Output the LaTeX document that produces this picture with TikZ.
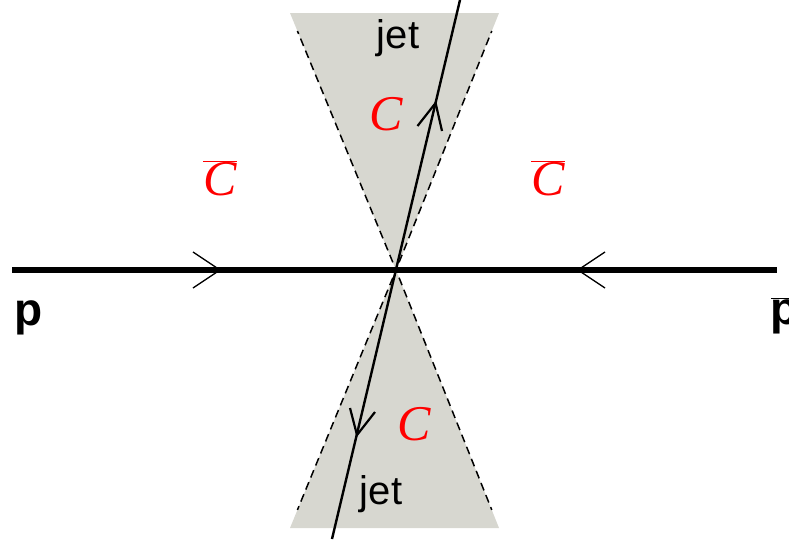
\documentclass[tikz,border=0pt]{standalone}
\usepackage{fontspec}
\usetikzlibrary{calc}
\setmainfont{Liberation Sans}
\newfontfamily\cfont{Liberation Serif}
\definecolor{conegray}{RGB}{215,215,208}
\begin{document}
\begin{tikzpicture}[x=1pt,y=-1pt,
  cone/.style={fill=conegray,draw=none},
  edge/.style={line width=1.5pt,dash pattern=on 8pt off 5pt},
  beam/.style={line width=5.5pt},
  jetline/.style={line width=2.4pt},
  chev/.style={line width=1.3pt},
  jchev/.style={line width=2.2pt},
  lab/.style={font=\fontsize{40}{40}\selectfont},
  plab/.style={font=\fontsize{46}{46}\selectfont\bfseries},
  clab/.style={text=red,font=\fontsize{50}{50}\selectfont\cfont\itshape}]
\useasboundingbox (0,0) rectangle (789,539);
\coordinate (apex) at (396,270);
\coordinate (tl) at (290,13);
\coordinate (tr) at (499,13);
\coordinate (bl) at (290,528);
\coordinate (br) at (499,528);
\fill[cone] (apex) -- (tl) -- (tr) -- cycle;
\fill[cone] (apex) -- (bl) -- (br) -- cycle;
\draw[edge] ($(apex)!0.03!(tl)$) -- ($(apex)!0.93!(tl)$);
\draw[edge] ($(apex)!0.03!(tr)$) -- ($(apex)!0.93!(tr)$);
\draw[edge] ($(apex)!0.03!(bl)$) -- ($(apex)!0.93!(bl)$);
\draw[edge] ($(apex)!0.03!(br)$) -- ($(apex)!0.93!(br)$);
% beam
\coordinate (bL) at (12,270);
\coordinate (bR) at (777,270);
\draw[beam] (bL) -- (bR);
\draw[chev] (193,252) -- (220,270) -- (193,288);
\draw[chev] (605,252) -- (578,270) -- (605,288);
% jet line
\coordinate (jT) at (460,0);
\coordinate (jB) at (332,539);
\draw[jetline] (jT) -- (jB);
\draw[jchev] (417.5,126) -- (435.6,103) -- (442,131);
\draw[jchev] (350,408) -- (357,435) -- (375,412);
% labels
\node[lab] (jt) at (398,38) {jet};
\node[lab] (jb) at (381,494) {jet};
\node[clab] (c1) at (386,114) {C};
\node[clab] (c2) at (414,424) {C};
\node[clab] (cb1) at (220,178) {$\overline{\mbox{\cfont\itshape C}}$};
\node[clab] (cb2) at (548,178) {$\overline{\mbox{\cfont\itshape C}}$};
\node[plab] (p) at (29,318) {p};
\node[plab] (pb) at (785,316) {$\overline{\mbox{\bfseries p}}$};
\end{tikzpicture}
\end{document}
